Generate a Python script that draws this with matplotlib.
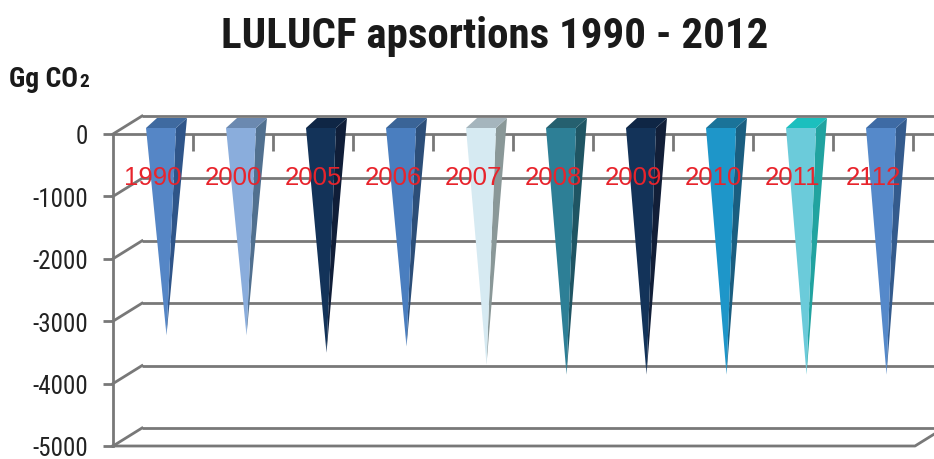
import matplotlib
matplotlib.use("Agg")
import matplotlib.pyplot as plt
from matplotlib import font_manager
from matplotlib.patches import Polygon

# ---- data ----
categories = ["1990", "2000", "2005", "2006", "2007", "2008", "2009", "2010", "2011", "2112"]
values = [-3400, -3400, -3680, -3580, -3870, -4030, -4030, -4030, -4030, -4030]
yticks = [0, -1000, -2000, -3000, -4000, -5000]
title = "LULUCF apsortions 1990 - 2012"
unit = "Gg CO"
unit_sub = "2"

# face colours (front, side, top) per bar
front_cols = ["#5586C6", "#8AADDC", "#133359", "#4A7EBF", "#D6EAF2",
              "#2D7F96", "#133359", "#1E96C9", "#6BCBDA", "#5589CA"]
side_cols = ["#2F5589", "#51708F", "#101E38", "#2C4E78", "#8A9898",
             "#1F5563", "#121F38", "#1A5E80", "#21A3A0", "#345B8D"]
top_cols = ["#3F6AA0", "#6B89B0", "#0F2645", "#3A6497", "#A5B5BD",
            "#25606F", "#0F2645", "#1A7399", "#1BBFBE", "#3E6BA5"]

# ---- font selection ----
names = {f.name for f in font_manager.fontManager.ttflist}
cond = None
stretch = "normal"
for cand in ["Liberation Sans Narrow", "Roboto Condensed", "Open Sans Condensed",
             "DejaVu Sans Condensed"]:
    if cand in names:
        cond = cand
        break
if cond is None:
    for f in font_manager.fontManager.ttflist:
        if f.name == "DejaVu Sans" and "Condensed" in f.fname:
            cond = "DejaVu Sans"
            stretch = "condensed"
            break
if cond is None:
    cond = "Liberation Sans"

W, H, DPI = 934, 460, 100
fig = plt.figure(figsize=(W / DPI, H / DPI), dpi=DPI)
L, R, T, B = 113, 913, 135, 447
ax = fig.add_axes([L / W, 1 - B / H, (R - L) / W, (B - T) / H])
n = len(categories)
ax.set_xlim(0, n)
ax.set_ylim(-5000, 0)
for s in ax.spines.values():
    s.set_visible(False)

pxx = n / (R - L)          # data units per pixel in x
pxy = 5000 / (B - T)       # data units per pixel in y

gcol = "#787878"
glw = 2.0
# back-wall offset
bdx, bdy = 29 * pxx, 18 * pxy
xr = (W - L) * pxx + 0.5

for v in yticks:
    ax.plot([bdx, xr], [v + bdy, v + bdy], color=gcol, lw=glw, clip_on=False,
            solid_capstyle="butt", zorder=1)
    ax.plot([0, bdx], [v, v + bdy], color=gcol, lw=glw, clip_on=False, zorder=1)

# front axis lines
ax.plot([0, 0], [0, -5000], color=gcol, lw=glw, clip_on=False, zorder=2)
ax.plot([0, xr], [0, 0], color=gcol, lw=glw, clip_on=False, zorder=2)
ax.plot([0, n + 2 * pxx, n + 2 * pxx + bdx], [-5000, -5000, -5000 + bdy],
        color=gcol, lw=glw, clip_on=False, zorder=2)

# ticks
ax.set_yticks(yticks)
ax.set_yticklabels([str(v) for v in yticks], fontsize=18, family=cond,
                   fontstretch=stretch, color="#222222")
ax.tick_params(axis="y", length=7.2, width=glw, color=gcol, pad=11)
ax.xaxis.set_ticks_position("top")
ax.set_xticks(range(1, n + 1))
ax.tick_params(axis="x", direction="in", length=12, width=glw, color=gcol,
               labeltop=False, labelbottom=False)

# pyramids
hw = 15 * pxx
fdx, fdy = 8 * pxx, 6 * pxy
kdx, kdy = 19 * pxx, 16 * pxy
tdx, tdy = 13.5 * pxx, 11 * pxy
for i, (cat, v) in enumerate(zip(categories, values)):
    cx = i + 0.5
    fl = (cx - hw + fdx, fdy)
    fr = (cx + hw + fdx, fdy)
    bl = (cx - hw + kdx, kdy)
    br = (cx + hw + kdx, kdy)
    tip = (cx + tdx, v + tdy)
    ax.add_patch(Polygon([fr, br, tip], closed=True, fc=side_cols[i], ec="none",
                         clip_on=False, zorder=3))
    ax.add_patch(Polygon([fl, fr, tip], closed=True, fc=front_cols[i], ec="none",
                         clip_on=False, zorder=4))
    ax.add_patch(Polygon([fl, fr, br, bl], closed=True, fc=top_cols[i], ec="none",
                         clip_on=False, zorder=4))
    ax.text(cx, -43 * pxy, cat, ha="center", va="center", fontsize=18.5,
            family="Liberation Sans", color="#E8242C", zorder=6)

# title and unit
fig.text(495 / W, 1 - 48 / H, title, ha="center", va="baseline", fontsize=31,
         fontweight="bold", family=cond, fontstretch=stretch, color="#1a1a1a")
t1 = fig.text(9 / W, 1 - 87 / H, unit, ha="left", va="baseline", fontsize=20,
              fontweight="bold", family=cond, fontstretch=stretch, color="#1a1a1a")
fig.canvas.draw()
ext = t1.get_window_extent(renderer=fig.canvas.get_renderer())
fig.text((ext.x1 + 1.5) / W, 1 - 87 / H, unit_sub, ha="left", va="baseline",
         fontsize=14, fontweight="bold", family=cond, fontstretch=stretch,
         color="#1a1a1a")

fig.savefig("out.png", dpi=DPI)
